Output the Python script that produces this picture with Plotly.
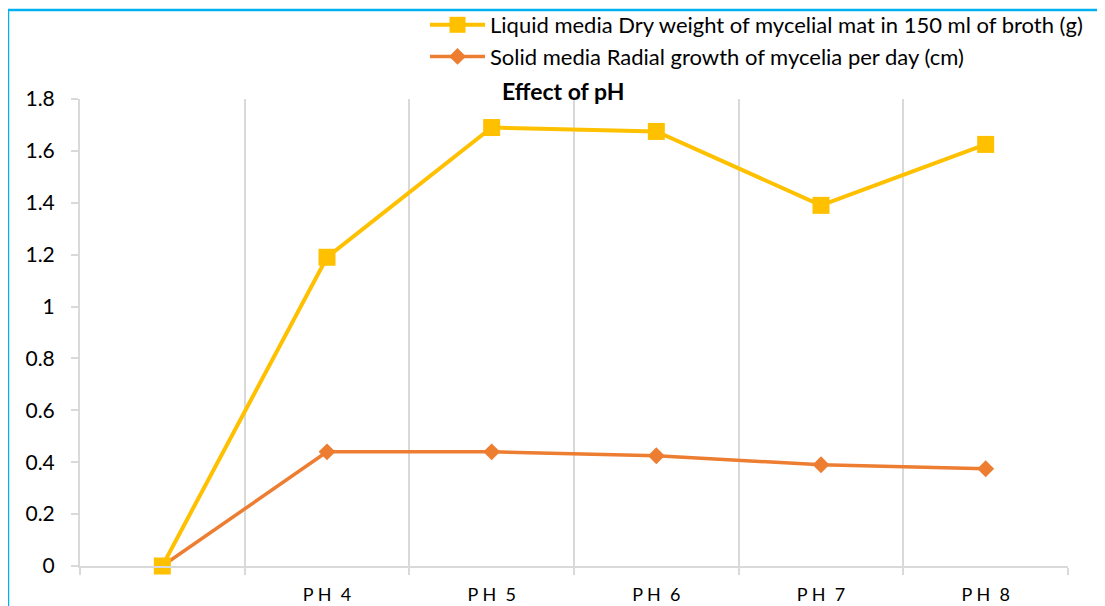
import plotly.graph_objects as go

categories = ["", "PH 4", "PH 5", "PH 6", "PH 7", "PH 8"]
tick_labels = ["", "P H  4", "P H  5", "P H  6", "P H  7", "P H  8"]
liquid = [0, 1.19, 1.69, 1.675, 1.39, 1.625]
solid = [0, 0.44, 0.44, 0.425, 0.39, 0.375]

liquid_name = "Liquid media Dry weight of mycelial mat in 150 ml of broth (g)"
solid_name = "Solid media Radial growth of mycelia per day (cm)"

x = list(range(len(categories)))
FONT = "Lato"

fig = go.Figure()
fig.add_trace(go.Scatter(
    x=x, y=solid, name=solid_name, mode="lines+markers",
    line=dict(color="#ED7D31", width=3.5),
    marker=dict(symbol="diamond", size=13, color="#ED7D31"),
    cliponaxis=False, legendrank=2,
))
fig.add_trace(go.Scatter(
    x=x, y=liquid, name=liquid_name, mode="lines+markers",
    line=dict(color="#FFC000", width=4),
    marker=dict(symbol="square", size=17, color="#FFC000"),
    cliponaxis=False, legendrank=1,
))

# page body offset (default 8px margin of the html body)
OFF = 8
W, H = 1105, 606
# target plot area on screen: x 80..1068, y 99..566
ml = 80 - OFF
mt = 99 - OFF
mr = W - (1068 - OFF)
mb = H - (566 - OFF)
pw, ph = W - ml - mr, H - mt - mb

def px_x(v):
    return (v - OFF - ml) / pw

def px_y(v):
    return (H - mb - (v - OFF)) / ph

boundaries = [i - 0.5 for i in range(len(categories) + 1)]

fig.update_layout(
    width=W, height=H,
    margin=dict(l=ml, r=mr, t=mt, b=mb, autoexpand=False),
    paper_bgcolor="white", plot_bgcolor="white",
    font=dict(family=FONT, color="#000000", size=18),
    showlegend=True,
    legend=dict(
        x=px_x(425), y=px_y(4), xanchor="left", yanchor="top",
        font=dict(size=22, family=FONT, color="#000000"), itemwidth=55,
        bgcolor="rgba(0,0,0,0)", tracegroupgap=0, traceorder="normal",
    ),
    xaxis=dict(
        range=[-0.5, len(categories) - 0.5],
        tickmode="array", tickvals=x, ticktext=tick_labels,
        showgrid=False, ticks="", zeroline=False,
        showline=True, linecolor="#D9D9D9", linewidth=2,
        tickfont=dict(size=18, family=FONT, color="#000000"),
        ticklabelstandoff=11,
        minor=dict(tickmode="array", tickvals=boundaries, showgrid=True,
                   gridcolor="#D9D9D9", gridwidth=2, ticks="outside",
                   ticklen=7, tickcolor="#D9D9D9", tickwidth=2),
        fixedrange=True,
    ),
    yaxis=dict(
        range=[0, 1.8], tickmode="array",
        tickvals=[0, 0.2, 0.4, 0.6, 0.8, 1, 1.2, 1.4, 1.6, 1.8],
        ticktext=["0", "0.2", "0.4", "0.6", "0.8", "1", "1.2", "1.4", "1.6", "1.8"],
        showgrid=False, zeroline=False,
        showline=True, linecolor="#D9D9D9", linewidth=2,
        ticks="outside", ticklen=7, tickcolor="#D9D9D9", tickwidth=2,
        tickfont=dict(size=21, family=FONT, color="#000000"),
        ticklabelstandoff=12,
        fixedrange=True,
    ),
    annotations=[dict(
        text="<b>Effect of pH</b>", xref="paper", yref="paper",
        x=px_x(563), y=px_y(91), xanchor="center", yanchor="middle",
        showarrow=False, font=dict(size=23, family=FONT, color="#000000"),
    )],
    shapes=[dict(
        type="rect", xref="paper", yref="paper",
        x0=px_x(8), x1=px_x(W + 20), y0=px_y(H + 20), y1=px_y(10),
        line=dict(color="#00B0F0", width=2.5), fillcolor="rgba(0,0,0,0)",
        layer="above",
    )],
)

fig.write_html("out.html")
